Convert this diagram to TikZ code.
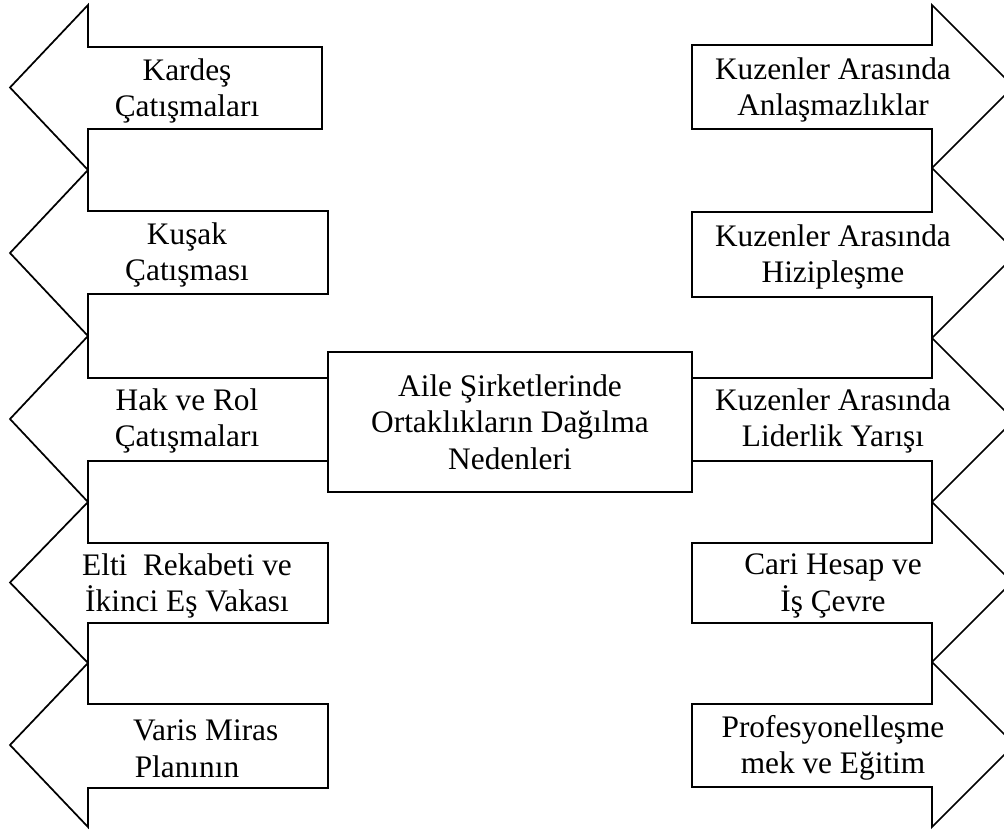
\documentclass[tikz,border=0pt]{standalone}
\usepackage{fontspec}
\setmainfont{Liberation Serif}

\begin{document}
\begin{tikzpicture}[x=0.75pt, y=-0.75pt, line width=1.3pt,
                    every node/.style={font=\fontsize{23.5}{27.5}\selectfont},
                    main node/.style={draw,rectangle,align=center,minimum width=273pt,minimum height=105pt,inner sep=0pt},
                    text node/.style={align=center,inner sep=0pt}]

  \useasboundingbox (0,0) rectangle (1004,832);
  \clip (0,0) rectangle (1004,832);

  % left arrows
  \foreach \hA/\hB/\bA/\bB/\xe in {5/170/47/129/322, 170/336/211/294/328, 336/502/378/461/328,
                                   502/663/543/623/328, 663/827/704/788/328}
    \draw (\xe,\bA) -- (88,\bA) -- (88,\hA) -- (10,{(\hA+\hB)/2}) -- (88,\hB) -- (88,\bB) -- (\xe,\bB) -- cycle;

  % right arrows
  \foreach \hA/\hB/\bA/\bB in {5/168/45/129, 168/338/212/297, 338/502/378/461,
                               502/662/543/623, 662/827/704/787}
    \draw (692,\bA) -- (932,\bA) -- (932,\hA) -- ({932+(\hB-\hA)/2},{(\hA+\hB)/2}) -- (932,\hB) -- (932,\bB) -- (692,\bB) -- cycle;

  \node[main node, fill=white] (box) at (510,422) {Aile Şirketlerinde\\Ortaklıkların Dağılma\\Nedenleri};

  \node[text node] (l1) at (187,91) {Kardeş\\Çatışmaları};
  \node[text node] (l2) at (187,255) {Kuşak\\Çatışması};
  \node[text node] (l3) at (187,421) {Hak ve Rol\\Çatışmaları};
  \node[text node] (l4) at (187,586) {Elti\ \ Rekabeti ve\\İkinci Eş Vakası};
  \node[text node] (l5) at (187,749) {\hspace*{28pt}Varis Miras\\Planının};

  \node[text node] (r1) at (833,90) {Kuzenler Arasında\\Anlaşmazlıklar};
  \node[text node] (r2) at (833,257) {Kuzenler Arasında\\Hizipleşme};
  \node[text node] (r3) at (833,421) {Kuzenler Arasında\\Liderlik Yarışı};
  \node[text node] (r4) at (833,586) {Cari Hesap ve\\İş Çevre};
  \node[text node] (r5) at (833,748) {Profesyonelleşme\\mek ve Eğitim};
\end{tikzpicture}
\end{document}
